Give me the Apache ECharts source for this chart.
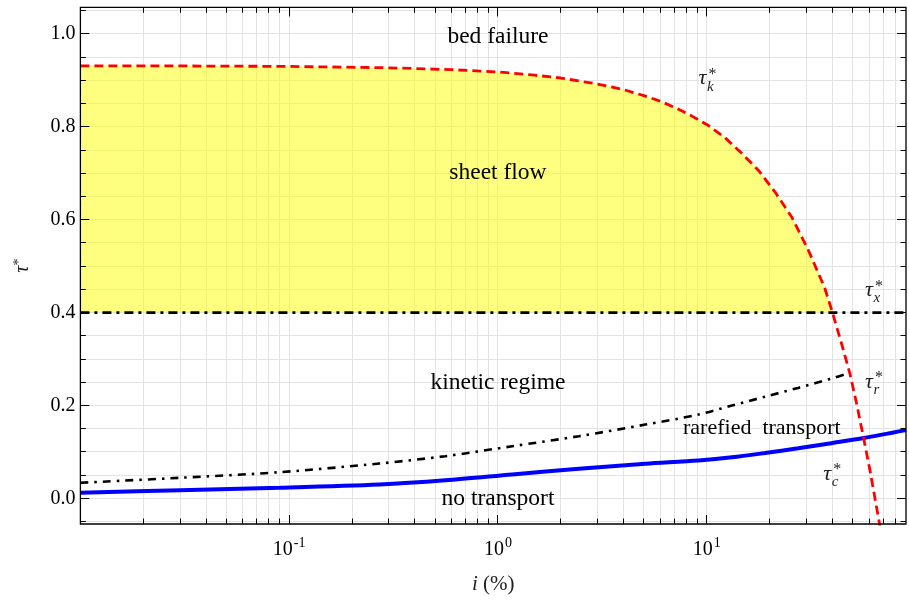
<!DOCTYPE html>
<html>
<head>
<meta charset="utf-8">
<script src="https://cdn.jsdelivr.net/npm/echarts@6/dist/echarts.min.js"></script>
<style>
  html, body { margin: 0; padding: 0; background: #fff; }
  #chart { width: 909px; height: 600px; }
</style>
</head>
<body>
<div id="chart"></div>
<script>
const FONT = '"Liberation Serif", "Times New Roman", serif';

// Threshold curves: slope i (%) against dimensionless shear stress tau*
const tauKSlope = [0.01, 0.03, 0.1, 0.3, 0.6, 1, 1.5, 2, 3, 4, 5, 6, 7, 8.5, 10, 12.2, 14.7, 17.7, 21.2, 25.5, 30.6, 34, 36.8, 40, 44.1, 48.4, 52.1, 56.5, 60.4, 66.2, 68];
const tauKValue = [0.931, 0.931, 0.930, 0.927, 0.923, 0.918, 0.911, 0.905, 0.892, 0.880, 0.867, 0.855, 0.842, 0.823, 0.805, 0.777, 0.743, 0.706, 0.660, 0.606, 0.535, 0.488, 0.452, 0.400, 0.335, 0.270, 0.206, 0.128, 0.062, -0.038, -0.068];

const tauRSlope = [0.01, 0.03, 0.09, 0.27, 0.56, 1.17, 2.44, 5.08, 9.12, 13.2, 19, 27.4, 39.5, 48.3];
const tauRValue = [0.0337, 0.0445, 0.0565, 0.0752, 0.091, 0.1124, 0.134, 0.159, 0.1805, 0.200, 0.219, 0.238, 0.258, 0.270];

const tauCSlope = [0.01, 0.03, 0.09, 0.27, 0.56, 1.17, 2.44, 5.08, 9.12, 13.2, 19, 27.4, 39.5, 56.5, 90];
const tauCValue = [0.0122, 0.0178, 0.0230, 0.030, 0.039, 0.0516, 0.0638, 0.0745, 0.0818, 0.0885, 0.0978, 0.108, 0.119, 0.130, 0.147];

const tauXSlope = [0.01, 90];
const tauXValue = [0.4, 0.4];

// Axis ticks
const xMajorTicks = [0.1, 1, 10];
const xMinorTicks = [0.02, 0.03, 0.04, 0.05, 0.06, 0.07, 0.08, 0.09,
                     0.2, 0.3, 0.4, 0.5, 0.6, 0.7, 0.8, 0.9,
                     2, 3, 4, 5, 6, 7, 8, 9,
                     20, 30, 40, 50, 60, 70, 80];
const yMajorTicks = [0, 0.2, 0.4, 0.6, 0.8, 1.0];
const yMinorTicks = [-0.05, 0.05, 0.1, 0.15, 0.25, 0.3, 0.35, 0.45, 0.5, 0.55,
                     0.65, 0.7, 0.75, 0.85, 0.9, 0.95, 1.05];

// Regime names and where they sit
const regionNames = ['bed failure', 'sheet flow', 'kinetic regime', 'rarefied  transport', 'no transport'];
const regionSlope = [1, 1, 1, 18.35, 1];
const regionTau = [0.9927, 0.701, 0.2497, 0.1513, 0.0];
const regionFontSize = [23.5, 23.5, 23.5, 22, 23.5];

// Curve labels tau*_k, tau*_x, tau*_r, tau*_c
const curveSubscripts = ['k', 'x', 'r', 'c'];
const curveLabelSlope = [9.12, 57.3, 57.3, 36.1];
const curveLabelTau = [0.9035, 0.4479, 0.2502, 0.0524];

const pairs = (xs, ys) => xs.map((x, k) => [x, ys[k]]);

// Sheet-flow band: between tau*_x and tau*_k while tau*_k stays above tau*_x
const sheetSlope = tauKSlope.filter((s, k) => tauKValue[k] >= tauXValue[0]);
const sheetTau = sheetSlope.map((s, k) => tauKValue[k]);

const gridItems = [].concat(
  xMajorTicks.map(v => [v, 0, 0]),
  xMinorTicks.map(v => [v, 0, 1]),
  yMajorTicks.map(v => [1, v, 2]),
  yMinorTicks.map(v => [1, v, 3])
);

const snap = v => Math.round(v - 0.5) + 0.5;

function renderGridLine(params, api) {
  const cs = params.coordSys;
  const kind = api.value(2);
  const style = { stroke: '#e3e3e3', lineWidth: 1 };
  if (kind < 2) {
    const x = snap(api.coord([api.value(0), 0])[0]);
    return { type: 'line', shape: { x1: x, y1: cs.y, x2: x, y2: cs.y + cs.height }, style };
  }
  const y = snap(api.coord([1, api.value(1)])[1]);
  return { type: 'line', shape: { x1: cs.x, y1: y, x2: cs.x + cs.width, y2: y }, style };
}

function renderTick(params, api) {
  const cs = params.coordSys;
  const kind = api.value(2);
  const style = { stroke: '#000', lineWidth: 1 };
  if (kind === 4) {
    return { type: 'rect', shape: { x: cs.x, y: cs.y, width: cs.width, height: cs.height },
             style: { fill: 'none', stroke: '#000', lineWidth: 1.3 } };
  }
  const len = (kind === 0 || kind === 2) ? 9 : 5.5;
  if (kind < 2) {
    const x = snap(api.coord([api.value(0), 0])[0]);
    const b = cs.y + cs.height;
    return { type: 'group', children: [
      { type: 'line', shape: { x1: x, y1: b, x2: x, y2: b - len }, style },
      { type: 'line', shape: { x1: x, y1: cs.y, x2: x, y2: cs.y + len }, style }
    ] };
  }
  const y = snap(api.coord([1, api.value(1)])[1]);
  const r = cs.x + cs.width;
  return { type: 'group', children: [
    { type: 'line', shape: { x1: cs.x, y1: y, x2: cs.x + len, y2: y }, style },
    { type: 'line', shape: { x1: r, y1: y, x2: r - len, y2: y }, style }
  ] };
}

// Yellow band drawn once, as a polygon over the upper curve and back along tau*_x
function renderSheetBand(params, api) {
  if (params.dataIndex !== 0) return null;
  const top = sheetSlope.map((s, k) => api.coord([s, sheetTau[k]]));
  const bottom = sheetSlope.slice().reverse().map(s => api.coord([s, tauXValue[0]]));
  return { type: 'polygon', shape: { points: top.concat(bottom) },
           style: { fill: 'rgba(255,255,0,0.5)', stroke: 'none' } };
}

function renderRegion(params, api) {
  const k = api.value(2);
  const p = api.coord([api.value(0), api.value(1)]);
  return { type: 'text', x: p[0], y: p[1], style: {
    text: regionNames[k], fontSize: regionFontSize[k], fontFamily: FONT,
    fill: '#000', align: 'center', verticalAlign: 'middle' } };
}

function renderCurveLabel(params, api) {
  const k = api.value(2);
  const p = api.coord([api.value(0), api.value(1)]);
  const base = { fontFamily: FONT, fill: '#222', align: 'left', verticalAlign: 'middle' };
  return { type: 'group', children: [
    { type: 'text', x: p[0], y: p[1], style: Object.assign({ text: 'τ', fontSize: 22, fontStyle: 'italic' }, base) },
    { type: 'text', x: p[0] + 8.5, y: p[1] + 8, style: Object.assign({ text: curveSubscripts[k], fontSize: 15, fontStyle: 'italic' }, base) },
    { type: 'text', x: p[0] + 10, y: p[1] - 4, style: Object.assign({ text: '*', fontSize: 16 }, base) }
  ] };
}

const chart = echarts.init(document.getElementById('chart'), null, { renderer: 'canvas' });

chart.setOption({
  animation: false,
  backgroundColor: '#fff',
  textStyle: { fontFamily: FONT },
  grid: { left: 80.4, right: 1, top: 7.4, bottom: 75.3, containLabel: false, show: false },
  xAxis: {
    type: 'log',
    logBase: 10,
    min: 0.01,
    max: 90,
    axisLine: { show: false },
    axisTick: { show: false },
    splitLine: { show: false },
    minorTick: { show: false },
    minorSplitLine: { show: false },
    axisLabel: {
      margin: 12,
      formatter: v => {
        const lg = Math.log10(v);
        const e = Math.round(lg);
        if (Math.abs(lg - e) > 1e-6) return '';
        if (!xMajorTicks.some(t => Math.round(Math.log10(t)) === e)) return '';
        return '{b|10}{s|' + (e < 0 ? '-' + (-e) : String(e)) + '}';
      },
      rich: {
        b: { fontSize: 20, fontFamily: FONT, color: '#000', verticalAlign: 'bottom', lineHeight: 24 },
        s: { fontSize: 14, fontFamily: FONT, color: '#000', verticalAlign: 'top', padding: [0, 0, 0, 1] }
      }
    },
    name: '{it|i}{n| (%)}',
    nameLocation: 'middle',
    nameGap: 50,
    nameTextStyle: {
      rich: {
        it: { fontSize: 21, fontFamily: FONT, fontStyle: 'italic', color: '#222' },
        n: { fontSize: 21, fontFamily: FONT, color: '#222' }
      }
    }
  },
  yAxis: {
    type: 'value',
    min: -0.055,
    max: 1.057,
    axisLine: { show: false },
    axisTick: { show: false },
    splitLine: { show: false },
    axisLabel: {
      margin: 5,
      fontSize: 20,
      fontFamily: FONT,
      color: '#000',
      formatter: v => yMajorTicks.some(t => Math.abs(t - v) < 1e-6) ? v.toFixed(1) : ''
    },
    name: '{t|τ}{s|*}',
    nameLocation: 'middle',
    nameRotate: 90,
    nameGap: 48,
    nameTextStyle: {
      rich: {
        t: { fontSize: 20, fontFamily: FONT, fontStyle: 'italic', color: '#222', verticalAlign: 'bottom' },
        s: { fontSize: 14, fontFamily: FONT, color: '#222', verticalAlign: 'top' }
      }
    }
  },
  series: [
    { type: 'custom', name: 'gridLines', renderItem: renderGridLine, data: gridItems,
      z: 1, silent: true, clip: false },
    { type: 'custom', name: 'sheetFlow', renderItem: renderSheetBand, data: pairs(sheetSlope, sheetTau),
      z: 2, silent: true, clip: true },
    { type: 'line', name: 'tauX', data: pairs(tauXSlope, tauXValue), symbol: 'none',
      lineStyle: { color: '#000', width: 2.8, type: [9, 5, 3, 5] }, z: 3,
      emphasis: { disabled: true } },
    { type: 'line', name: 'tauR', data: pairs(tauRSlope, tauRValue), symbol: 'none', smooth: 0.3,
      lineStyle: { color: '#000', width: 2.6, type: [8, 6, 2.5, 6] }, z: 3,
      emphasis: { disabled: true } },
    { type: 'line', name: 'tauC', data: pairs(tauCSlope, tauCValue), symbol: 'none', smooth: 0.3,
      lineStyle: { color: '#0000ff', width: 4 }, z: 3,
      emphasis: { disabled: true } },
    { type: 'line', name: 'tauK', data: pairs(tauKSlope, tauKValue), symbol: 'none',
      lineStyle: { color: '#ff0000', width: 2.8, type: [9, 5] }, z: 4,
      emphasis: { disabled: true } },
    { type: 'custom', name: 'frame', renderItem: renderTick, data: gridItems.concat([[1, 0, 4]]),
      z: 6, silent: true, clip: false },
    { type: 'custom', name: 'regions', renderItem: renderRegion,
      data: regionSlope.map((s, k) => [s, regionTau[k], k]), z: 7, silent: true, clip: false },
    { type: 'custom', name: 'curveLabels', renderItem: renderCurveLabel,
      data: curveLabelSlope.map((s, k) => [s, curveLabelTau[k], k]), z: 7, silent: true, clip: false }
  ]
});
</script>
</body>
</html>
